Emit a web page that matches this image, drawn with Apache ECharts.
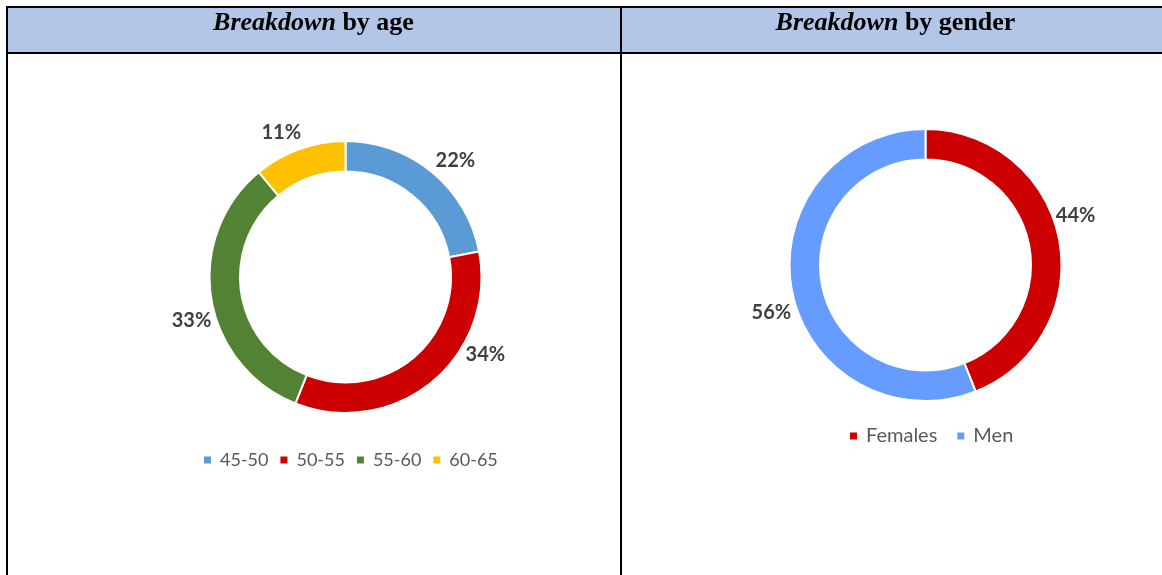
<!DOCTYPE html>
<html>
<head>
<meta charset="utf-8">
<script src="https://cdn.jsdelivr.net/npm/echarts@6/dist/echarts.min.js"></script>
<style>
  html, body { margin: 0; padding: 0; background: #fff; }
  #main { width: 1162px; height: 575px; }
</style>
</head>
<body>
<div id="main"></div>
<script>
// data
var ageGroups = ['45-50', '50-55', '55-60', '60-65'];
var agePct = [22, 34, 33, 11];
var genders = ['Females', 'Men'];
var genderPct = [44, 56];

// styles
var ageColors = ['#5B9BD5', '#CC0000', '#548235', '#FFC000'];
var genderColors = ['#CC0000', '#669CFF'];
// the labels in the original were dragged by hand a little off the slice middles
var ageLabelShift = [[6, 9], [36, -48], [7, 18], [-9, 9]];
var genderLabelShift = [[-10, -19], [6, 17]];

var labelFont = 'Lato, "Open Sans", sans-serif';
var titleFont = '"Liberation Serif", "Times New Roman", serif';

function toData(names, vals, shift) {
  return names.map(function (n, i) {
    var d = { name: n, value: vals[i] };
    if (shift) d.label = { offset: shift[i] };
    return d;
  });
}

// donut ring + transparent ring that carries the % labels just outside it
function ring(center, names, vals, colors, shift) {
  return [
    {
      type: 'pie',
      center: center,
      radius: [105.5, 136],
      startAngle: 90,
      clockwise: true,
      color: colors,
      silent: true,
      label: { show: false },
      labelLine: { show: false },
      itemStyle: { borderColor: '#fff', borderWidth: 2 },
      emphasis: { disabled: true },
      data: toData(names, vals)
    },
    {
      type: 'pie',
      center: center,
      radius: [150, 170],
      startAngle: 90,
      clockwise: true,
      silent: true,
      legendHoverLink: false,
      itemStyle: { color: 'transparent', borderWidth: 0 },
      label: {
        show: true,
        position: 'inside',
        formatter: '{c}%',
        color: '#404040',
        fontFamily: labelFont,
        fontWeight: 'bold',
        fontSize: 20
      },
      labelLine: { show: false },
      emphasis: { disabled: true },
      data: toData(names, vals, shift)
    }
  ];
}

var chart = echarts.init(document.getElementById('main'));

var titleRich = {
  i: { fontFamily: titleFont, fontStyle: 'italic', fontWeight: 'bold', fontSize: 26, fill: '#000' },
  b: { fontFamily: titleFont, fontWeight: 'bold', fontSize: 26, fill: '#000' }
};

var option = {
  animation: false,
  graphic: [
    { type: 'rect', shape: { x: 8, y: 8, width: 1160, height: 44 }, style: { fill: '#B4C6E7' }, z: 0 },
    { type: 'rect', shape: { x: 6, y: 6, width: 1160, height: 2 }, style: { fill: '#000' }, z: 1 },
    { type: 'rect', shape: { x: 6, y: 52, width: 1160, height: 2 }, style: { fill: '#000' }, z: 1 },
    { type: 'rect', shape: { x: 6, y: 6, width: 2, height: 575 }, style: { fill: '#000' }, z: 1 },
    { type: 'rect', shape: { x: 620, y: 6, width: 2, height: 575 }, style: { fill: '#000' }, z: 1 },
    {
      type: 'text', x: 313.5, y: 23, z: 2,
      style: { text: '{i|Breakdown}{b| by age}', align: 'center', verticalAlign: 'middle', rich: titleRich }
    },
    {
      type: 'text', x: 895.5, y: 23, z: 2,
      style: { text: '{i|Breakdown}{b| by gender}', align: 'center', verticalAlign: 'middle', rich: titleRich }
    }
  ],
  legend: [
    {
      data: ageGroups,
      left: 202,
      top: 451,
      padding: 0,
      icon: 'rect',
      itemWidth: 9,
      itemHeight: 9,
      itemGap: 10,
      selectedMode: false,
      textStyle: { fontFamily: labelFont, fontSize: 18, color: '#595959', padding: [0, 0, 0, 3] }
    },
    {
      data: genders,
      left: 848,
      top: 426,
      padding: 0,
      icon: 'rect',
      itemWidth: 9,
      itemHeight: 9,
      itemGap: 18,
      selectedMode: false,
      textStyle: { fontFamily: labelFont, fontSize: 20, color: '#595959', padding: [0, 0, 0, 3] }
    }
  ],
  series: ring([345.5, 277], ageGroups, agePct, ageColors, ageLabelShift)
    .concat(ring([925.5, 265], genders, genderPct, genderColors, genderLabelShift))
};

chart.setOption(option);
</script>
</body>
</html>
